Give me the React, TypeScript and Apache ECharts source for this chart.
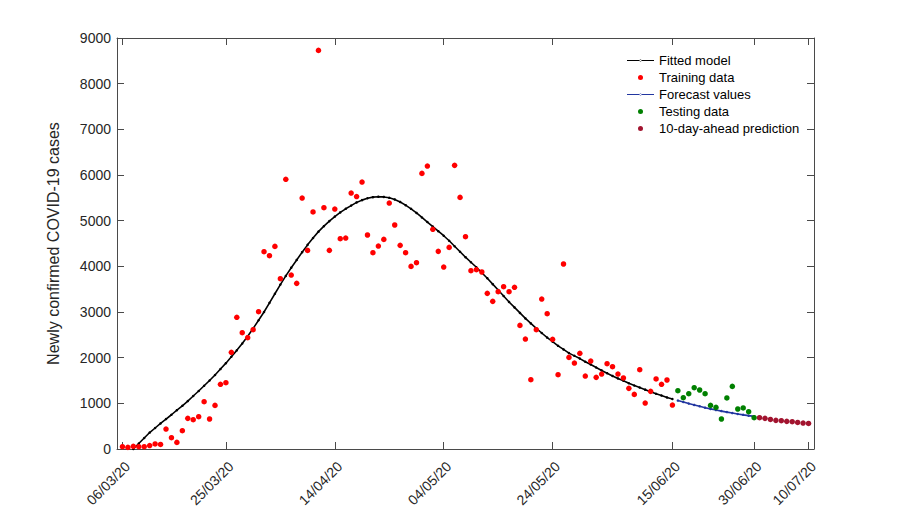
import React, { useEffect, useRef } from "react";
import * as echarts from "echarts";

// x values are days counted from 06/03/20
const tickDays = [0, 19, 39, 59, 79, 101, 116, 126];
const tickLabels = ["06/03/20", "25/03/20", "14/04/20", "04/05/20", "24/05/20", "15/06/20", "30/06/20", "10/07/20"];

const trainStart = 0;
const trainValues = [
  50, 35, 60, 50, 50, 75, 110, 100, 437, 247,
  145, 400, 671, 642, 708, 1036, 657, 955, 1416, 1452,
  2117, 2883, 2547, 2437, 2613, 3007, 4320, 4233, 4437, 3730,
  5905, 3810, 3627, 5496, 4349, 5190, 8729, 5284, 4350, 5255,
  4605, 4620, 5605, 5528, 5846, 4686, 4299, 4445, 4590, 5386,
  4905, 4459, 4299, 3999, 4080, 6035, 6196, 4810, 4328, 3985,
  4415, 6211, 5510, 4649, 3905, 3927, 3876, 3408, 3233, 3445,
  3555, 3445, 3540, 2707, 2408, 1517, 2612, 3284, 2963, 2400,
  1627, 4051, 2006, 1883, 2094, 1598, 1926, 1569, 1642, 1868,
  1802, 1642, 1555, 1328, 1196, 1736, 1007, 1262, 1533, 1416,
  1511, 963,
];

const fitStart = 2;
const fitValues = [
  0, 120, 240, 360, 460, 560, 655, 750, 850, 945,
  1050, 1160, 1270, 1385, 1500, 1620, 1750, 1880, 2020, 2160,
  2310, 2470, 2640, 2820, 3000, 3200, 3400, 3600, 3790, 3970,
  4140, 4310, 4470, 4620, 4760, 4880, 4990, 5090, 5180, 5260,
  5330, 5400, 5450, 5490, 5515, 5525, 5520, 5500, 5465, 5410,
  5340, 5260, 5170, 5070, 4970, 4870, 4770, 4670, 4560, 4440,
  4320, 4200, 4090, 3980, 3860, 3740, 3610, 3480, 3350, 3220,
  3100, 2980, 2860, 2750, 2640, 2540, 2440, 2350, 2260, 2180,
  2100, 2040, 1980, 1910, 1850, 1785, 1720, 1660, 1600, 1545,
  1495, 1440, 1390, 1345, 1300, 1255, 1210, 1170, 1130, 1095,
];

const forecastStart = 102;
const forecastValues = [1060, 1030, 995, 965, 935, 905, 878, 853, 830, 808, 787, 767, 748, 730, 714];

const testStart = 102;
const testValues = [1277, 1124, 1211, 1343, 1292, 1211, 955, 911, 657, 1117, 1371, 876, 898, 817, 686];

const predStart = 117;
const predValues = [686, 671, 648, 627, 620, 605, 598, 582, 569, 560];

const toPairs = (start: number, vals: number[]) => vals.map((v, i) => [start + i, v]);

const FONT = "'Liberation Sans', Arial, Helvetica, sans-serif";
const AXIS_COLOR = "#4a4a4a";
const LABEL_COLOR = "#262626";

const box = "M0,0M27,13";
const lineIcon = `path://${box}M0,5.9L27,5.9L27,7.1L0,7.1ZM12.5,6.5a1,1 0 1,0 2,0a1,1 0 1,0 -2,0Z`;
const dotIcon = `path://${box}M11,6.5a2.5,2.5 0 1,0 5,0a2.5,2.5 0 1,0 -5,0Z`;

export default function App() {
  const ref = useRef<HTMLDivElement>(null);
  useEffect(() => {
    if (!ref.current) return;
    const chart = echarts.init(ref.current, undefined, { renderer: "svg" });
    const labelFor = (v: number) => {
      const i = tickDays.indexOf(Math.round(v));
      return i >= 0 ? tickLabels[i] : "";
    };
    const axisLine = { show: true, onZero: false, lineStyle: { color: AXIS_COLOR, width: 1 } };
    chart.setOption({
      animation: false,
      backgroundColor: "#ffffff",
      textStyle: { fontFamily: FONT },
      grid: { left: 117, right: 86, top: 38, bottom: 58, containLabel: false, outerBoundsMode: "none" },
      legend: {
        orient: "vertical",
        left: 622,
        top: 49,
        itemWidth: 27,
        itemHeight: 13,
        itemGap: 4,
        textStyle: { fontSize: 13, color: "#000", fontFamily: FONT },
        itemStyle: { borderWidth: 0 },
        data: [
          { name: "Fitted model", icon: lineIcon },
          { name: "Training data", icon: dotIcon },
          { name: "Forecast values", icon: lineIcon },
          { name: "Testing data", icon: dotIcon },
          { name: "10-day-ahead prediction", icon: dotIcon },
        ],
      },
      xAxis: [
        {
          type: "value",
          min: -1,
          max: 127,
          position: "bottom",
          axisLine,
          axisTick: { show: true, inside: true, length: 7, customValues: tickDays, lineStyle: { color: AXIS_COLOR } },
          axisLabel: {
            show: true,
            customValues: tickDays,
            rotate: 45,
            align: "right",
            verticalAlign: "top",
            margin: 10,
            fontSize: 14,
            color: LABEL_COLOR,
            fontFamily: FONT,
            formatter: (v: number) => labelFor(v),
          },
          splitLine: { show: false },
        },
        {
          type: "value",
          min: -1,
          max: 127,
          position: "top",
          axisLine,
          axisTick: { show: true, inside: true, length: 7, customValues: tickDays, lineStyle: { color: AXIS_COLOR } },
          axisLabel: { show: false },
          splitLine: { show: false },
        },
      ],
      yAxis: [
        {
          type: "value",
          min: 0,
          max: 9000,
          interval: 1000,
          position: "left",
          name: "Newly confirmed COVID-19 cases",
          nameLocation: "middle",
          nameGap: 56,
          nameTextStyle: { fontSize: 16, color: LABEL_COLOR, fontFamily: FONT },
          axisLine,
          axisTick: { show: true, inside: true, length: 7, lineStyle: { color: AXIS_COLOR } },
          axisLabel: {
            fontSize: 14,
            color: LABEL_COLOR,
            margin: 6,
            fontFamily: FONT,
            formatter: (v: number) => String(v),
          },
          splitLine: { show: false },
        },
        {
          type: "value",
          min: 0,
          max: 9000,
          interval: 1000,
          position: "right",
          axisLine,
          axisTick: { show: true, inside: true, length: 7, lineStyle: { color: AXIS_COLOR } },
          axisLabel: { show: false },
          splitLine: { show: false },
        },
      ],
      series: [
        {
          name: "Fitted model",
          type: "line",
          data: toPairs(fitStart, fitValues),
          color: "#000000",
          lineStyle: { color: "#000000", width: 1.6 },
          symbol: "circle",
          symbolSize: 2.5,
          showSymbol: true,
          itemStyle: { color: "#000000" },
          z: 2,
        },
        {
          name: "Training data",
          type: "scatter",
          data: toPairs(trainStart, trainValues),
          color: "#ff0000",
          symbolSize: 5.5,
          itemStyle: { color: "#ff0000", opacity: 1 },
          z: 3,
        },
        {
          name: "Forecast values",
          type: "line",
          data: toPairs(forecastStart, forecastValues),
          color: "#2236a0",
          lineStyle: { color: "#2236a0", width: 1.6 },
          symbol: "circle",
          symbolSize: 2.5,
          showSymbol: true,
          itemStyle: { color: "#2236a0" },
          z: 2,
        },
        {
          name: "Testing data",
          type: "scatter",
          data: toPairs(testStart, testValues),
          color: "#008000",
          symbolSize: 5.5,
          itemStyle: { color: "#008000", opacity: 1 },
          z: 3,
        },
        {
          name: "10-day-ahead prediction",
          type: "scatter",
          data: toPairs(predStart, predValues),
          color: "#a2142f",
          symbolSize: 5.5,
          itemStyle: { color: "#a2142f", opacity: 1 },
          z: 3,
        },
      ],
    });
    return () => chart.dispose();
  }, []);
  return (
    <div
      ref={ref}
      style={{ position: "fixed", left: 0, top: 0, width: 900, height: 507, background: "#fff" }}
    />
  );
}
